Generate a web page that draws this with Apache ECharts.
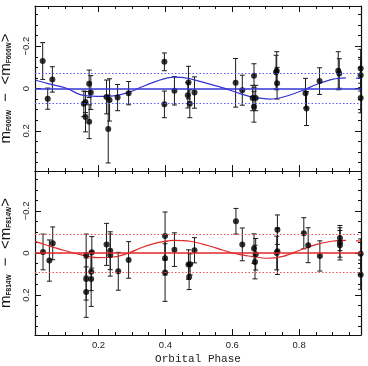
<!DOCTYPE html>
<html>
<head>
<meta charset="utf-8">
<script src="https://cdn.jsdelivr.net/npm/echarts@6/dist/echarts.min.js"></script>
<style>
  html, body { margin: 0; padding: 0; background: #fff; }
  #chart { width: 368px; height: 366px; }
</style>
</head>
<body>
<div id="chart"></div>
<script>
// F606W panel (top)
var topPhase = [0.033, 0.048, 0.062, 0.156, 0.161, 0.161, 0.172, 0.172, 0.177, 0.224, 0.229, 0.233, 0.257, 0.29,
  0.397, 0.397, 0.427, 0.469, 0.467, 0.473, 0.487, 0.61, 0.63, 0.661, 0.665, 0.665, 0.67,
  0.733, 0.731, 0.734, 0.819, 0.822, 0.861, 0.917, 0.92, 0.984, 0.984, 0.984]
var topMag = [-0.13, 0.048, -0.043, 0.072, 0.064, 0.135, -0.022, 0.157, 0.019, 0.04, 0.192, 0.054, 0.043, 0.022,
  -0.126, 0.075, 0.011, -0.028, 0.032, 0.072, 0.019, -0.027, 0.008, 0.045, -0.06, 0.086, 0.045,
  -0.084, -0.077, -0.025, 0.022, 0.095, -0.035, -0.084, -0.071, -0.095, -0.063, 0.045]
var topErr = [0.087, 0.05, 0.06, 0.06, 0.05, 0.07, 0.065, 0.08, 0.08, 0.08, 0.16, 0.1, 0.062, 0.055,
  0.042, 0.063, 0.067, 0.077, 0.06, 0.066, 0.074, 0.115, 0.071, 0.06, 0.057, 0.073, 0.06,
  0.09, 0.08, 0.075, 0.07, 0.08, 0.063, 0.09, 0.07, 0.09, 0.075, 0.07]

// F814W panel (bottom)
var botPhase = [0.034, 0.053, 0.063, 0.163, 0.163, 0.163, 0.18, 0.178, 0.178, 0.224, 0.235, 0.235, 0.259, 0.29,
  0.399, 0.399, 0.399, 0.427, 0.469, 0.474, 0.471, 0.487, 0.611, 0.63, 0.665, 0.67, 0.668,
  0.735, 0.735, 0.733, 0.814, 0.827, 0.862, 0.922, 0.922, 0.922, 0.984, 0.984]
var botMag = [-0.005, 0.036, -0.046, 0.01, 0.124, 0.186, -0.003, 0.089, 0.124, -0.041, -0.011, 0.01, 0.087, 0.033,
  -0.081, 0.025, 0.093, -0.016, 0.055, 0.054, 0.114, -0.013, -0.151, -0.041, -0.021, 0.006, 0.043,
  -0.111, -0.008, 0.0, -0.094, -0.037, 0.014, -0.071, -0.05, -0.037, 0.003, 0.103]
var botErr = [0.085, 0.098, 0.078, 0.1, 0.1, 0.12, 0.075, 0.09, 0.13, 0.1, 0.09, 0.1, 0.09, 0.087,
  0.114, 0.08, 0.137, 0.08, 0.07, 0.05, 0.06, 0.06, 0.061, 0.078, 0.07, 0.075, 0.08,
  0.07, 0.11, 0.08, 0.074, 0.083, 0.072, 0.06, 0.07, 0.07, 0.07, 0.07]

// model light curves
var topCurvePhase = [0.011, 0.046, 0.106, 0.145, 0.195, 0.245, 0.295, 0.33, 0.374, 0.424, 0.469, 0.524, 0.573,
  0.623, 0.658, 0.713, 0.752, 0.812, 0.852, 0.902, 0.94, 0.955, 0.97, 0.985]
var topCurveMag = [-0.04, -0.024, 0.0, 0.029, 0.037, 0.035, 0.016, -0.008, -0.035, -0.054, -0.048, -0.024, -0.003,
  0.024, 0.04, 0.05, 0.04, 0.008, -0.019, -0.044, -0.05, null, -0.049, -0.048]
var botCurvePhase = [0.01, 0.046, 0.096, 0.145, 0.195, 0.245, 0.285, 0.33, 0.374, 0.424, 0.474, 0.524, 0.573,
  0.623, 0.658, 0.703, 0.752, 0.802, 0.852, 0.902, 0.94, 0.955, 0.97, 0.985]
var botCurveMag = [-0.055, -0.037, -0.013, 0.008, 0.022, 0.019, 0.003, -0.026, -0.048, -0.06, -0.056, -0.037, -0.013,
  0.008, 0.016, 0.025, 0.016, -0.013, -0.041, -0.057, -0.06, null, -0.058, -0.057]

var topLevels = [-0.075, 0, 0.075]
var botLevels = [-0.085, 0, 0.085]

var xMajor = [0.2, 0.4, 0.6, 0.8]
var xMinor = [0.05, 0.1, 0.15, 0.25, 0.3, 0.35, 0.45, 0.5, 0.55, 0.65, 0.7, 0.75, 0.85, 0.9, 0.95]
var yMajor = [-0.2, 0, 0.2]
var yMinor = [-0.35, -0.3, -0.25, -0.15, -0.1, -0.05, 0.05, 0.1, 0.15, 0.25, 0.3, 0.35]

var X_MIN = 0.01, X_MAX = 0.985, Y_LIM = 0.39
var BLUE = '#3434d4', RED = '#e02828'
var BLUE_DOT = '#5a5aff', RED_DOT = '#f05050'

function pairs(xs, ys) {
  return xs.map(function (x, i) { return [x, ys[i]] })
}
function triples(xs, ys, es) {
  return xs.map(function (x, i) { return [x, ys[i], es[i]] })
}

function xAx(grid, pos, ticks, len, line, labels, name) {
  return {
    gridIndex: grid, type: 'value', min: X_MIN, max: X_MAX, position: pos,
    axisLine: { show: line, onZero: false, lineStyle: { color: '#111', width: 1.2 } },
    axisTick: { inside: true, length: len, customValues: ticks, lineStyle: { color: '#111' } },
    axisLabel: { show: labels, customValues: xMajor, margin: 5, color: '#222', fontSize: 9.5,
      fontFamily: 'Liberation Sans', formatter: function (v) { return v.toFixed(1) } },
    splitLine: { show: false },
    name: name || '', nameLocation: 'middle', nameGap: 19,
    nameTextStyle: { fontFamily: 'Liberation Mono', fontSize: 11, color: '#222' }
  }
}

function yAx(grid, pos, ticks, len, line, labels, name) {
  return {
    gridIndex: grid, type: 'value', min: -Y_LIM, max: Y_LIM, inverse: true, position: pos,
    axisLine: { show: line, onZero: false, lineStyle: { color: '#111', width: 1.2 } },
    axisTick: { inside: true, length: len, customValues: ticks, lineStyle: { color: '#111' } },
    axisLabel: { show: labels, customValues: yMajor, rotate: 90, margin: 4, color: '#222', fontSize: 9.5,
      fontFamily: 'Liberation Sans', formatter: function (v) { return v === 0 ? '0' : (v < 0 ? '\u22120.2' : '0.2') } },
    splitLine: { show: false },
    name: name || '', nameLocation: 'middle', nameGap: 13,
    nameTextStyle: {
      color: '#111', fontFamily: 'Liberation Sans',
      rich: {
        m: { fontSize: 15, fontFamily: 'Liberation Sans', color: '#111' },
        s: { fontSize: 6.5, fontWeight: 'bold', fontFamily: 'Liberation Sans', color: '#111', verticalAlign: 'bottom', padding: [6, 0, 0, 0] }
      }
    }
  }
}

function errorBars(params, api) {
  var x = api.value(0), y = api.value(1), e = api.value(2)
  var a = api.coord([x, y - e]), b = api.coord([x, y + e])
  var hw = 2.5
  var st = { stroke: '#1a1a1a', lineWidth: 1 }
  return {
    type: 'group',
    children: [
      { type: 'line', shape: { x1: a[0], y1: a[1], x2: b[0], y2: b[1] }, style: st },
      { type: 'line', shape: { x1: a[0] - hw, y1: a[1], x2: a[0] + hw, y2: a[1] }, style: st },
      { type: 'line', shape: { x1: b[0] - hw, y1: b[1], x2: b[0] + hw, y2: b[1] }, style: st }
    ]
  }
}

function levelLines(levels, color, dotColor) {
  return levels.map(function (v) {
    return {
      yAxis: v,
      lineStyle: v === 0 ? { color: color, type: 'solid', width: 1.6 } : { color: dotColor, type: [1.5, 2], width: 1 }
    }
  })
}

function panel(xi, yi, phase, mag, err, cPhase, cMag, levels, color, dotColor) {
  return [
    {
      type: 'line', xAxisIndex: xi, yAxisIndex: yi, data: pairs(cPhase, cMag), smooth: 0.3,
      showSymbol: false, connectNulls: false, silent: true,
      lineStyle: { color: color, width: 1.2 },
      markLine: { silent: true, symbol: 'none', label: { show: false }, data: levelLines(levels, color, dotColor) }
    },
    {
      type: 'custom', xAxisIndex: xi, yAxisIndex: yi, renderItem: errorBars, clip: true,
      data: triples(phase, mag, err), z: 3
    },
    {
      type: 'scatter', xAxisIndex: xi, yAxisIndex: yi, data: pairs(phase, mag), symbolSize: 6,
      itemStyle: { color: '#000' }, z: 4
    }
  ]
}

var myChart = echarts.init(document.getElementById('chart'))
var nameTop = '{m|m}{s|F606W}{m|  \u2212  <m}{s|F606W}{m|>}'
var nameBot = '{m|m}{s|F814W}{m|  \u2212  <m}{s|F814W}{m|>}'

var option = {
  animation: false,
  backgroundColor: '#fff',
  grid: [
    { left: 35, right: 7, top: 6, height: 165, outerBoundsMode: 'none', containLabel: false },
    { left: 35, right: 7, top: 171, height: 164, outerBoundsMode: 'none', containLabel: false }
  ],
  xAxis: [
    xAx(0, 'bottom', xMajor, 6, true, false),
    xAx(0, 'bottom', xMinor, 3, false, false),
    xAx(0, 'top', xMajor, 6, true, false),
    xAx(0, 'top', xMinor, 3, false, false),
    xAx(1, 'bottom', xMajor, 6, true, true, 'Orbital Phase'),
    xAx(1, 'bottom', xMinor, 3, false, false),
    xAx(1, 'top', xMajor, 6, true, false),
    xAx(1, 'top', xMinor, 3, false, false)
  ],
  yAxis: [
    yAx(0, 'left', yMajor, 6, true, true, nameTop),
    yAx(0, 'left', yMinor, 3, false, false),
    yAx(0, 'right', yMajor, 6, true, false),
    yAx(0, 'right', yMinor, 3, false, false),
    yAx(1, 'left', yMajor, 6, true, true, nameBot),
    yAx(1, 'left', yMinor, 3, false, false),
    yAx(1, 'right', yMajor, 6, true, false),
    yAx(1, 'right', yMinor, 3, false, false)
  ],
  series: [].concat(
    panel(0, 0, topPhase, topMag, topErr, topCurvePhase, topCurveMag, topLevels, BLUE, BLUE_DOT),
    panel(4, 4, botPhase, botMag, botErr, botCurvePhase, botCurveMag, botLevels, RED, RED_DOT)
  )
}
myChart.setOption(option)
</script>
</body>
</html>
